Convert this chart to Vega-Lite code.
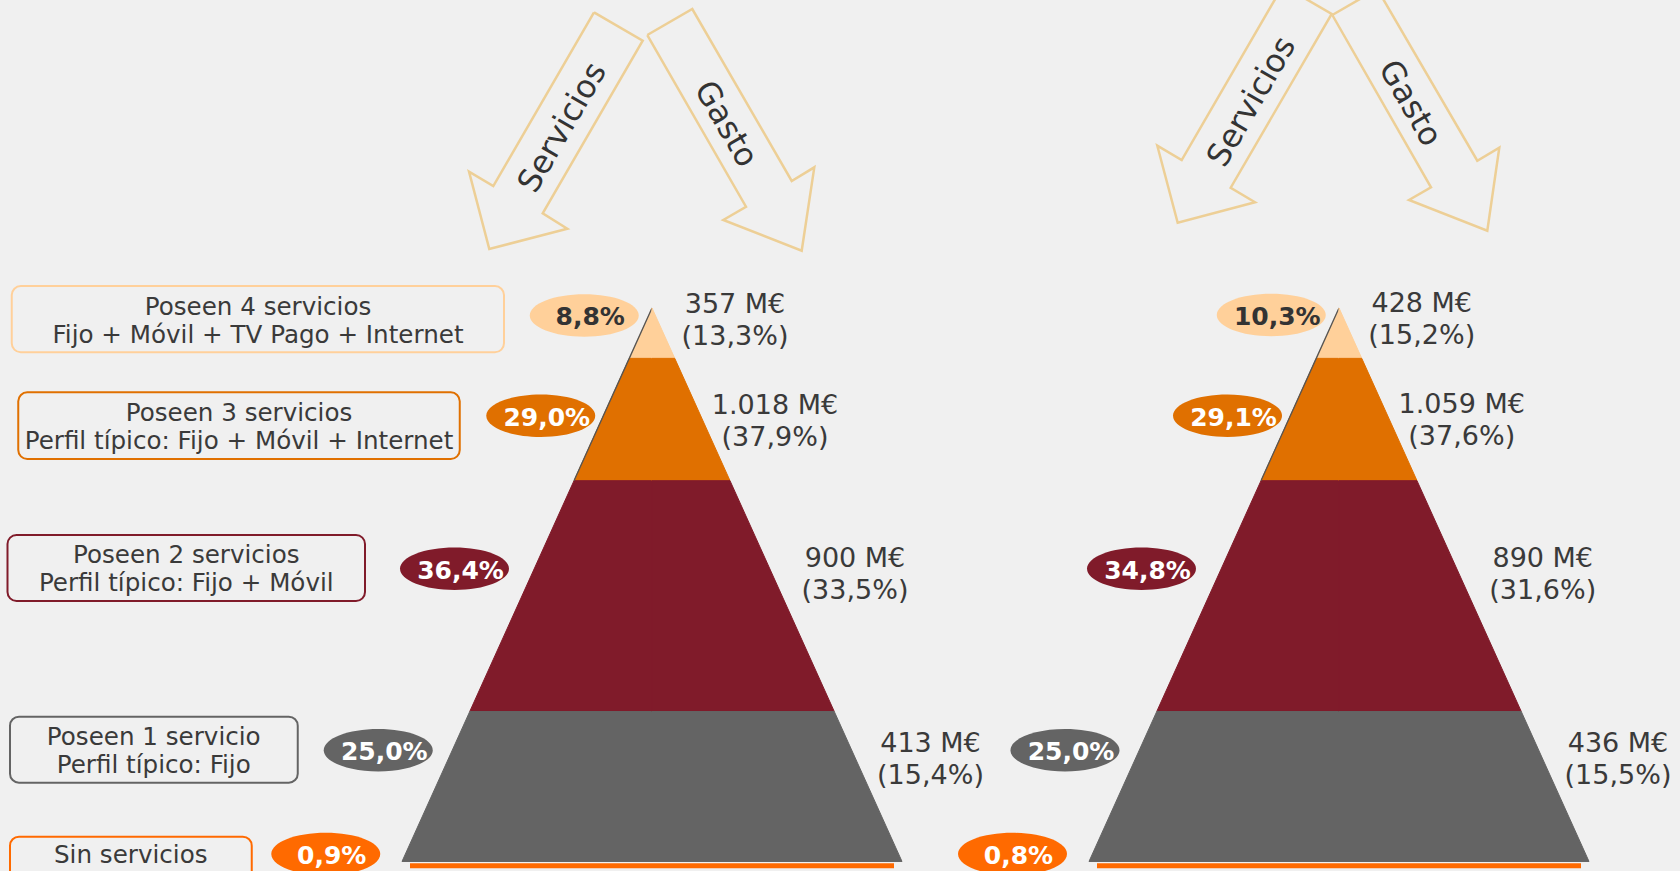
{
"$schema": "https://vega.github.io/schema/vega-lite/v6.json",
"width": 1680, "height": 871,
"autosize": {"type": "none"},
"padding": 0,
"background": "#F0F0F0",
"config": {"view": {"stroke": null}},
"datasets": {
 "bandas": [
  {"nivel": "4 servicios", "depth": 0}, {"nivel": "4 servicios", "depth": 0.091},
  {"nivel": "3 servicios", "depth": 0.091}, {"nivel": "3 servicios", "depth": 0.312},
  {"nivel": "2 servicios", "depth": 0.312}, {"nivel": "2 servicios", "depth": 0.729},
  {"nivel": "1 servicio", "depth": 0.729}, {"nivel": "1 servicio", "depth": 1.0}
 ],
 "base": [{"nivel": "Sin servicios", "u": -0.968, "u2": 0.968, "d": 1.0078}],
 "cajas": [
  {"nivel": "4 servicios", "texto": "Poseen 4 servicios\nFijo + Móvil + TV Pago + Internet", "u": -2.561, "u2": -0.592, "d": -0.0397, "d2": 0.08, "tu": -1.576, "td": 0.0126},
  {"nivel": "3 servicios", "texto": "Poseen 3 servicios\nPerfil típico: Fijo + Móvil + Internet", "u": -2.535, "u2": -0.769, "d": 0.1523, "d2": 0.2728, "tu": -1.652, "td": 0.2036},
  {"nivel": "2 servicios", "texto": "Poseen 2 servicios\nPerfil típico: Fijo + Móvil", "u": -2.578, "u2": -1.148, "d": 0.4101, "d2": 0.5294, "tu": -1.863, "td": 0.4602},
  {"nivel": "1 servicio", "texto": "Poseen 1 servicio\nPerfil típico: Fijo", "u": -2.568, "u2": -1.417, "d": 0.7384, "d2": 0.8576, "tu": -1.993, "td": 0.7895},
  {"nivel": "Sin servicios", "texto": "Sin servicios", "u": -2.568, "u2": -1.601, "d": 0.9552, "d2": 1.075, "tu": -2.085, "td": 1.0033}
 ],
 "burbujas": [
  {"panel": "A", "nivel": "4 servicios", "hogares": "8,8%", "u": -0.271, "d": 0.0135},
  {"panel": "A", "nivel": "3 servicios", "hogares": "29,0%", "u": -0.445, "d": 0.1948},
  {"panel": "A", "nivel": "2 servicios", "hogares": "36,4%", "u": -0.79, "d": 0.471},
  {"panel": "A", "nivel": "1 servicio", "hogares": "25,0%", "u": -1.095, "d": 0.799},
  {"panel": "A", "nivel": "Sin servicios", "hogares": "0,9%", "u": -1.305, "d": 0.9865},
  {"panel": "B", "nivel": "4 servicios", "hogares": "10,3%", "u": -0.271, "d": 0.0126},
  {"panel": "B", "nivel": "3 servicios", "hogares": "29,1%", "u": -0.446, "d": 0.1948},
  {"panel": "B", "nivel": "2 servicios", "hogares": "34,8%", "u": -0.79, "d": 0.471},
  {"panel": "B", "nivel": "1 servicio", "hogares": "25,0%", "u": -1.096, "d": 0.799},
  {"panel": "B", "nivel": "Sin servicios", "hogares": "0,8%", "u": -1.306, "d": 0.9865}
 ],
 "gasto": [
  {"panel": "A", "nivel": "4 servicios", "texto": "357 M€\n(13,3%)", "u": 0.332, "d": 0.0085},
  {"panel": "A", "nivel": "3 servicios", "texto": "1.018 M€\n(37,9%)", "u": 0.492, "d": 0.192},
  {"panel": "A", "nivel": "2 servicios", "texto": "900 M€\n(33,5%)", "u": 0.812, "d": 0.4674},
  {"panel": "A", "nivel": "1 servicio", "texto": "413 M€\n(15,4%)", "u": 1.114, "d": 0.802},
  {"panel": "B", "nivel": "4 servicios", "texto": "428 M€\n(15,2%)", "u": 0.331, "d": 0.0067},
  {"panel": "B", "nivel": "3 servicios", "texto": "1.059 M€\n(37,6%)", "u": 0.491, "d": 0.1902},
  {"panel": "B", "nivel": "2 servicios", "texto": "890 M€\n(31,6%)", "u": 0.815, "d": 0.4674},
  {"panel": "B", "nivel": "1 servicio", "texto": "436 M€\n(15,5%)", "u": 1.116, "d": 0.802}
 ],
 "flechas": [
  {"panel": "A", "flecha": "Servicios", "orden": 1, "u": -0.232, "d": -0.5342},
  {"panel": "A", "flecha": "Servicios", "orden": 2, "u": -0.0372, "d": -0.4829},
  {"panel": "A", "flecha": "Servicios", "orden": 3, "u": -0.4372, "d": -0.1711},
  {"panel": "A", "flecha": "Servicios", "orden": 4, "u": -0.3388, "d": -0.1433},
  {"panel": "A", "flecha": "Servicios", "orden": 5, "u": -0.6508, "d": -0.1066},
  {"panel": "A", "flecha": "Servicios", "orden": 6, "u": -0.732, "d": -0.2463},
  {"panel": "A", "flecha": "Servicios", "orden": 7, "u": -0.6348, "d": -0.2204},
  {"panel": "A", "flecha": "Servicios", "orden": 8, "u": -0.232, "d": -0.5342},
  {"panel": "A", "flecha": "Gasto", "orden": 1, "u": -0.0188, "d": -0.4932},
  {"panel": "A", "flecha": "Gasto", "orden": 2, "u": 0.1612, "d": -0.5402},
  {"panel": "A", "flecha": "Gasto", "orden": 3, "u": 0.5588, "d": -0.2295},
  {"panel": "A", "flecha": "Gasto", "orden": 4, "u": 0.6492, "d": -0.2542},
  {"panel": "A", "flecha": "Gasto", "orden": 5, "u": 0.5988, "d": -0.1035},
  {"panel": "A", "flecha": "Gasto", "orden": 6, "u": 0.2852, "d": -0.159},
  {"panel": "A", "flecha": "Gasto", "orden": 7, "u": 0.376, "d": -0.183},
  {"panel": "A", "flecha": "Gasto", "orden": 8, "u": -0.0188, "d": -0.4932},
  {"panel": "B", "flecha": "Servicios", "orden": 1, "u": -0.224, "d": -0.5825},
  {"panel": "B", "flecha": "Servicios", "orden": 2, "u": -0.0292, "d": -0.5312},
  {"panel": "B", "flecha": "Servicios", "orden": 3, "u": -0.4332, "d": -0.2173},
  {"panel": "B", "flecha": "Servicios", "orden": 4, "u": -0.336, "d": -0.191},
  {"panel": "B", "flecha": "Servicios", "orden": 5, "u": -0.6452, "d": -0.1541},
  {"panel": "B", "flecha": "Servicios", "orden": 6, "u": -0.7268, "d": -0.2932},
  {"panel": "B", "flecha": "Servicios", "orden": 7, "u": -0.6292, "d": -0.2674},
  {"panel": "B", "flecha": "Servicios", "orden": 8, "u": -0.224, "d": -0.5825},
  {"panel": "B", "flecha": "Gasto", "orden": 1, "u": -0.0268, "d": -0.5294},
  {"panel": "B", "flecha": "Gasto", "orden": 2, "u": 0.1532, "d": -0.5763},
  {"panel": "B", "flecha": "Gasto", "orden": 3, "u": 0.5532, "d": -0.2661},
  {"panel": "B", "flecha": "Gasto", "orden": 4, "u": 0.6412, "d": -0.2896},
  {"panel": "B", "flecha": "Gasto", "orden": 5, "u": 0.5932, "d": -0.1397},
  {"panel": "B", "flecha": "Gasto", "orden": 6, "u": 0.28, "d": -0.1951},
  {"panel": "B", "flecha": "Gasto", "orden": 7, "u": 0.368, "d": -0.2181},
  {"panel": "B", "flecha": "Gasto", "orden": 8, "u": -0.0268, "d": -0.5294}
 ],
 "flechas_texto": [
  {"panel": "A", "texto": "Servicios", "u": -0.358, "d": -0.3261},
  {"panel": "A", "texto": "Gasto", "u": 0.2953, "d": -0.3321},
  {"panel": "B", "texto": "Servicios", "u": -0.349, "d": -0.3727},
  {"panel": "B", "texto": "Gasto", "u": 0.284, "d": -0.3698}
 ]
},
"layer": [
 {
  "data": {"name": "bandas"},
  "layer": [
   {
    "mark": {"type": "area", "orient": "horizontal", "strokeWidth": 1},
    "encoding": {
     "y": {"field": "depth", "type": "quantitative", "scale": {"domain": [-0.5565, 1.0172], "reverse": true, "nice": false, "zero": false}, "axis": null},
     "x": {"field": "depth", "type": "quantitative", "scale": {"domain": [-4.112, 2.608], "reverse": true, "nice": false, "zero": false}, "axis": null, "stack": null},
     "x2": {"datum": 0},
     "color": {"field": "nivel", "type": "nominal", "scale": {"domain": ["4 servicios", "3 servicios", "2 servicios", "1 servicio", "Sin servicios"], "range": ["#FFD09A", "#E07000", "#801B2A", "#646464", "#FF6A00"]}, "legend": null},
     "stroke": {"field": "nivel", "type": "nominal", "scale": {"domain": ["4 servicios", "3 servicios", "2 servicios", "1 servicio", "Sin servicios"], "range": ["#FFD09A", "#E07000", "#801B2A", "#646464", "#FF6A00"]}, "legend": null}
    }
   },
   {
    "transform": [{"filter": "datum.depth <= 0.32"}],
    "mark": {"type": "line", "color": "#555555", "strokeWidth": 1.3},
    "encoding": {
     "y": {"field": "depth", "type": "quantitative", "scale": {"domain": [-0.5565, 1.0172], "reverse": true, "nice": false, "zero": false}, "axis": null},
     "x": {"field": "depth", "type": "quantitative", "scale": {"domain": [-4.112, 2.608], "reverse": true, "nice": false, "zero": false}, "axis": null}
    }
   }
  ]
 },
 {
  "layer": [
   {
    "data": {"name": "bandas"},
    "mark": {"type": "area", "orient": "horizontal", "strokeWidth": 1},
    "encoding": {
     "y": {"field": "depth", "type": "quantitative", "scale": {"domain": [-0.5565, 1.0172], "reverse": true, "nice": false, "zero": false}, "axis": null},
     "x": {"field": "depth", "type": "quantitative", "scale": {"domain": [-2.608, 4.112], "nice": false, "zero": false}, "axis": null, "stack": null},
     "x2": {"datum": 0},
     "color": {"field": "nivel", "type": "nominal", "scale": {"domain": ["4 servicios", "3 servicios", "2 servicios", "1 servicio", "Sin servicios"], "range": ["#FFD09A", "#E07000", "#801B2A", "#646464", "#FF6A00"]}, "legend": null},
     "stroke": {"field": "nivel", "type": "nominal", "scale": {"domain": ["4 servicios", "3 servicios", "2 servicios", "1 servicio", "Sin servicios"], "range": ["#FFD09A", "#E07000", "#801B2A", "#646464", "#FF6A00"]}, "legend": null}
    }
   },
   {
    "data": {"name": "base"},
    "mark": {"type": "rule", "strokeWidth": 5},
    "encoding": {
     "y": {"field": "d", "type": "quantitative", "scale": {"domain": [-0.5565, 1.0172], "reverse": true, "nice": false, "zero": false}, "axis": null},
     "x": {"field": "u", "type": "quantitative", "scale": {"domain": [-2.608, 4.112], "nice": false, "zero": false}, "axis": null},
     "x2": {"field": "u2"},
     "color": {"field": "nivel", "type": "nominal", "scale": {"domain": ["4 servicios", "3 servicios", "2 servicios", "1 servicio", "Sin servicios"], "range": ["#FFD09A", "#E07000", "#801B2A", "#646464", "#FF6A00"]}, "legend": null}
    }
   },
   {
    "data": {"name": "cajas"},
    "mark": {"type": "rect", "filled": false, "strokeWidth": 2, "cornerRadius": 9},
    "encoding": {
     "y": {"field": "d", "type": "quantitative", "scale": {"domain": [-0.5565, 1.0172], "reverse": true, "nice": false, "zero": false}, "axis": null},
     "y2": {"field": "d2"},
     "x": {"field": "u", "type": "quantitative", "scale": {"domain": [-2.608, 4.112], "nice": false, "zero": false}, "axis": null},
     "x2": {"field": "u2"},
     "color": {"field": "nivel", "type": "nominal", "scale": {"domain": ["4 servicios", "3 servicios", "2 servicios", "1 servicio", "Sin servicios"], "range": ["#FFD09A", "#E07000", "#801B2A", "#646464", "#FF6A00"]}, "legend": null}
    }
   },
   {
    "data": {"name": "cajas"},
    "mark": {"type": "text", "font": "DejaVu Sans", "fontSize": 24.6, "align": "center", "baseline": "alphabetic", "lineBreak": "\n", "lineHeight": 28.5, "color": "#3a3a3a"},
    "encoding": {
     "y": {"field": "td", "type": "quantitative", "scale": {"domain": [-0.5565, 1.0172], "reverse": true, "nice": false, "zero": false}, "axis": null},
     "x": {"field": "tu", "type": "quantitative", "scale": {"domain": [-2.608, 4.112], "nice": false, "zero": false}, "axis": null},
     "text": {"field": "texto", "type": "nominal"}
    }
   },
   {
    "data": {"name": "burbujas"},
    "transform": [{"filter": "datum.panel === 'A'"}],
    "mark": {"type": "point", "shape": "M-1,0C-1,-0.2148,-0.5523,-0.389,0,-0.389C0.5523,-0.389,1,-0.2148,1,0C1,0.2148,0.5523,0.389,0,0.389C-0.5523,0.389,-1,0.2148,-1,0Z", "size": 11881, "filled": true, "opacity": 1, "strokeWidth": 0},
    "encoding": {
     "y": {"field": "d", "type": "quantitative", "scale": {"domain": [-0.5565, 1.0172], "reverse": true, "nice": false, "zero": false}, "axis": null},
     "x": {"field": "u", "type": "quantitative", "scale": {"domain": [-2.608, 4.112], "nice": false, "zero": false}, "axis": null},
     "color": {"field": "nivel", "type": "nominal", "scale": {"domain": ["4 servicios", "3 servicios", "2 servicios", "1 servicio", "Sin servicios"], "range": ["#FFD09A", "#E07000", "#801B2A", "#646464", "#FF6A00"]}, "legend": null}
    }
   },
   {
    "data": {"name": "burbujas"},
    "transform": [{"filter": "datum.panel === 'A'"}],
    "mark": {"type": "text", "font": "DejaVu Sans", "fontWeight": "bold", "fontSize": 25, "align": "center", "baseline": "alphabetic", "dx": 6, "dy": 10},
    "encoding": {
     "y": {"field": "d", "type": "quantitative", "scale": {"domain": [-0.5565, 1.0172], "reverse": true, "nice": false, "zero": false}, "axis": null},
     "x": {"field": "u", "type": "quantitative", "scale": {"domain": [-2.608, 4.112], "nice": false, "zero": false}, "axis": null},
     "text": {"field": "hogares", "type": "nominal"},
     "color": {"condition": {"test": "datum.nivel === '4 servicios'", "value": "#333333"}, "value": "#FFFFFF"}
    }
   },
   {
    "data": {"name": "gasto"},
    "transform": [{"filter": "datum.panel === 'A'"}],
    "mark": {"type": "text", "font": "DejaVu Sans", "fontSize": 27, "align": "center", "baseline": "alphabetic", "lineBreak": "\n", "lineHeight": 32, "color": "#3a3a3a"},
    "encoding": {
     "y": {"field": "d", "type": "quantitative", "scale": {"domain": [-0.5565, 1.0172], "reverse": true, "nice": false, "zero": false}, "axis": null},
     "x": {"field": "u", "type": "quantitative", "scale": {"domain": [-2.608, 4.112], "nice": false, "zero": false}, "axis": null},
     "text": {"field": "texto", "type": "nominal"}
    }
   },
   {
    "data": {"name": "flechas"},
    "transform": [{"filter": "datum.panel === 'A'"}],
    "mark": {"type": "line", "color": "#EDCF96", "strokeWidth": 2.5, "strokeJoin": "miter"},
    "encoding": {
     "y": {"field": "d", "type": "quantitative", "scale": {"domain": [-0.5565, 1.0172], "reverse": true, "nice": false, "zero": false}, "axis": null},
     "x": {"field": "u", "type": "quantitative", "scale": {"domain": [-2.608, 4.112], "nice": false, "zero": false}, "axis": null},
     "detail": {"field": "flecha", "type": "nominal"},
     "order": {"field": "orden", "type": "quantitative"}
    }
   },
   {
    "data": {"name": "flechas_texto"},
    "transform": [{"filter": "datum.panel === 'A' && datum.texto === 'Servicios'"}],
    "mark": {"type": "text", "font": "DejaVu Sans", "fontSize": 32, "align": "center", "baseline": "middle", "angle": 300, "color": "#333333"},
    "encoding": {
     "y": {"field": "d", "type": "quantitative", "scale": {"domain": [-0.5565, 1.0172], "reverse": true, "nice": false, "zero": false}, "axis": null},
     "x": {"field": "u", "type": "quantitative", "scale": {"domain": [-2.608, 4.112], "nice": false, "zero": false}, "axis": null},
     "text": {"field": "texto", "type": "nominal"}
    }
   },
   {
    "data": {"name": "flechas_texto"},
    "transform": [{"filter": "datum.panel === 'A' && datum.texto === 'Gasto'"}],
    "mark": {"type": "text", "font": "DejaVu Sans", "fontSize": 32, "align": "center", "baseline": "middle", "angle": 60, "color": "#333333"},
    "encoding": {
     "y": {"field": "d", "type": "quantitative", "scale": {"domain": [-0.5565, 1.0172], "reverse": true, "nice": false, "zero": false}, "axis": null},
     "x": {"field": "u", "type": "quantitative", "scale": {"domain": [-2.608, 4.112], "nice": false, "zero": false}, "axis": null},
     "text": {"field": "texto", "type": "nominal"}
    }
   }
  ]
 },
 {
  "data": {"name": "bandas"},
  "layer": [
   {
    "mark": {"type": "area", "orient": "horizontal", "strokeWidth": 1},
    "encoding": {
     "y": {"field": "depth", "type": "quantitative", "scale": {"domain": [-0.5565, 1.0172], "reverse": true, "nice": false, "zero": false}, "axis": null},
     "x": {"field": "depth", "type": "quantitative", "scale": {"domain": [-1.364, 5.356], "reverse": true, "nice": false, "zero": false}, "axis": null, "stack": null},
     "x2": {"datum": 0},
     "color": {"field": "nivel", "type": "nominal", "scale": {"domain": ["4 servicios", "3 servicios", "2 servicios", "1 servicio", "Sin servicios"], "range": ["#FFD09A", "#E07000", "#801B2A", "#646464", "#FF6A00"]}, "legend": null},
     "stroke": {"field": "nivel", "type": "nominal", "scale": {"domain": ["4 servicios", "3 servicios", "2 servicios", "1 servicio", "Sin servicios"], "range": ["#FFD09A", "#E07000", "#801B2A", "#646464", "#FF6A00"]}, "legend": null}
    }
   },
   {
    "transform": [{"filter": "datum.depth <= 0.32"}],
    "mark": {"type": "line", "color": "#555555", "strokeWidth": 1.3},
    "encoding": {
     "y": {"field": "depth", "type": "quantitative", "scale": {"domain": [-0.5565, 1.0172], "reverse": true, "nice": false, "zero": false}, "axis": null},
     "x": {"field": "depth", "type": "quantitative", "scale": {"domain": [-1.364, 5.356], "reverse": true, "nice": false, "zero": false}, "axis": null}
    }
   }
  ]
 },
 {
  "layer": [
   {
    "data": {"name": "bandas"},
    "mark": {"type": "area", "orient": "horizontal", "strokeWidth": 1},
    "encoding": {
     "y": {"field": "depth", "type": "quantitative", "scale": {"domain": [-0.5565, 1.0172], "reverse": true, "nice": false, "zero": false}, "axis": null},
     "x": {"field": "depth", "type": "quantitative", "scale": {"domain": [-5.356, 1.364], "nice": false, "zero": false}, "axis": null, "stack": null},
     "x2": {"datum": 0},
     "color": {"field": "nivel", "type": "nominal", "scale": {"domain": ["4 servicios", "3 servicios", "2 servicios", "1 servicio", "Sin servicios"], "range": ["#FFD09A", "#E07000", "#801B2A", "#646464", "#FF6A00"]}, "legend": null},
     "stroke": {"field": "nivel", "type": "nominal", "scale": {"domain": ["4 servicios", "3 servicios", "2 servicios", "1 servicio", "Sin servicios"], "range": ["#FFD09A", "#E07000", "#801B2A", "#646464", "#FF6A00"]}, "legend": null}
    }
   },
   {
    "data": {"name": "base"},
    "mark": {"type": "rule", "strokeWidth": 5},
    "encoding": {
     "y": {"field": "d", "type": "quantitative", "scale": {"domain": [-0.5565, 1.0172], "reverse": true, "nice": false, "zero": false}, "axis": null},
     "x": {"field": "u", "type": "quantitative", "scale": {"domain": [-5.356, 1.364], "nice": false, "zero": false}, "axis": null},
     "x2": {"field": "u2"},
     "color": {"field": "nivel", "type": "nominal", "scale": {"domain": ["4 servicios", "3 servicios", "2 servicios", "1 servicio", "Sin servicios"], "range": ["#FFD09A", "#E07000", "#801B2A", "#646464", "#FF6A00"]}, "legend": null}
    }
   },
   {
    "data": {"name": "burbujas"},
    "transform": [{"filter": "datum.panel === 'B'"}],
    "mark": {"type": "point", "shape": "M-1,0C-1,-0.2148,-0.5523,-0.389,0,-0.389C0.5523,-0.389,1,-0.2148,1,0C1,0.2148,0.5523,0.389,0,0.389C-0.5523,0.389,-1,0.2148,-1,0Z", "size": 11881, "filled": true, "opacity": 1, "strokeWidth": 0},
    "encoding": {
     "y": {"field": "d", "type": "quantitative", "scale": {"domain": [-0.5565, 1.0172], "reverse": true, "nice": false, "zero": false}, "axis": null},
     "x": {"field": "u", "type": "quantitative", "scale": {"domain": [-5.356, 1.364], "nice": false, "zero": false}, "axis": null},
     "color": {"field": "nivel", "type": "nominal", "scale": {"domain": ["4 servicios", "3 servicios", "2 servicios", "1 servicio", "Sin servicios"], "range": ["#FFD09A", "#E07000", "#801B2A", "#646464", "#FF6A00"]}, "legend": null}
    }
   },
   {
    "data": {"name": "burbujas"},
    "transform": [{"filter": "datum.panel === 'B'"}],
    "mark": {"type": "text", "font": "DejaVu Sans", "fontWeight": "bold", "fontSize": 25, "align": "center", "baseline": "alphabetic", "dx": 6, "dy": 10},
    "encoding": {
     "y": {"field": "d", "type": "quantitative", "scale": {"domain": [-0.5565, 1.0172], "reverse": true, "nice": false, "zero": false}, "axis": null},
     "x": {"field": "u", "type": "quantitative", "scale": {"domain": [-5.356, 1.364], "nice": false, "zero": false}, "axis": null},
     "text": {"field": "hogares", "type": "nominal"},
     "color": {"condition": {"test": "datum.nivel === '4 servicios'", "value": "#333333"}, "value": "#FFFFFF"}
    }
   },
   {
    "data": {"name": "gasto"},
    "transform": [{"filter": "datum.panel === 'B'"}],
    "mark": {"type": "text", "font": "DejaVu Sans", "fontSize": 27, "align": "center", "baseline": "alphabetic", "lineBreak": "\n", "lineHeight": 32, "color": "#3a3a3a"},
    "encoding": {
     "y": {"field": "d", "type": "quantitative", "scale": {"domain": [-0.5565, 1.0172], "reverse": true, "nice": false, "zero": false}, "axis": null},
     "x": {"field": "u", "type": "quantitative", "scale": {"domain": [-5.356, 1.364], "nice": false, "zero": false}, "axis": null},
     "text": {"field": "texto", "type": "nominal"}
    }
   },
   {
    "data": {"name": "flechas"},
    "transform": [{"filter": "datum.panel === 'B'"}],
    "mark": {"type": "line", "color": "#EDCF96", "strokeWidth": 2.5, "strokeJoin": "miter"},
    "encoding": {
     "y": {"field": "d", "type": "quantitative", "scale": {"domain": [-0.5565, 1.0172], "reverse": true, "nice": false, "zero": false}, "axis": null},
     "x": {"field": "u", "type": "quantitative", "scale": {"domain": [-5.356, 1.364], "nice": false, "zero": false}, "axis": null},
     "detail": {"field": "flecha", "type": "nominal"},
     "order": {"field": "orden", "type": "quantitative"}
    }
   },
   {
    "data": {"name": "flechas_texto"},
    "transform": [{"filter": "datum.panel === 'B' && datum.texto === 'Servicios'"}],
    "mark": {"type": "text", "font": "DejaVu Sans", "fontSize": 32, "align": "center", "baseline": "middle", "angle": 300, "color": "#333333"},
    "encoding": {
     "y": {"field": "d", "type": "quantitative", "scale": {"domain": [-0.5565, 1.0172], "reverse": true, "nice": false, "zero": false}, "axis": null},
     "x": {"field": "u", "type": "quantitative", "scale": {"domain": [-5.356, 1.364], "nice": false, "zero": false}, "axis": null},
     "text": {"field": "texto", "type": "nominal"}
    }
   },
   {
    "data": {"name": "flechas_texto"},
    "transform": [{"filter": "datum.panel === 'B' && datum.texto === 'Gasto'"}],
    "mark": {"type": "text", "font": "DejaVu Sans", "fontSize": 32, "align": "center", "baseline": "middle", "angle": 60, "color": "#333333"},
    "encoding": {
     "y": {"field": "d", "type": "quantitative", "scale": {"domain": [-0.5565, 1.0172], "reverse": true, "nice": false, "zero": false}, "axis": null},
     "x": {"field": "u", "type": "quantitative", "scale": {"domain": [-5.356, 1.364], "nice": false, "zero": false}, "axis": null},
     "text": {"field": "texto", "type": "nominal"}
    }
   }
  ]
 }
],
"resolve": {"scale": {"x": "independent"}}
}
